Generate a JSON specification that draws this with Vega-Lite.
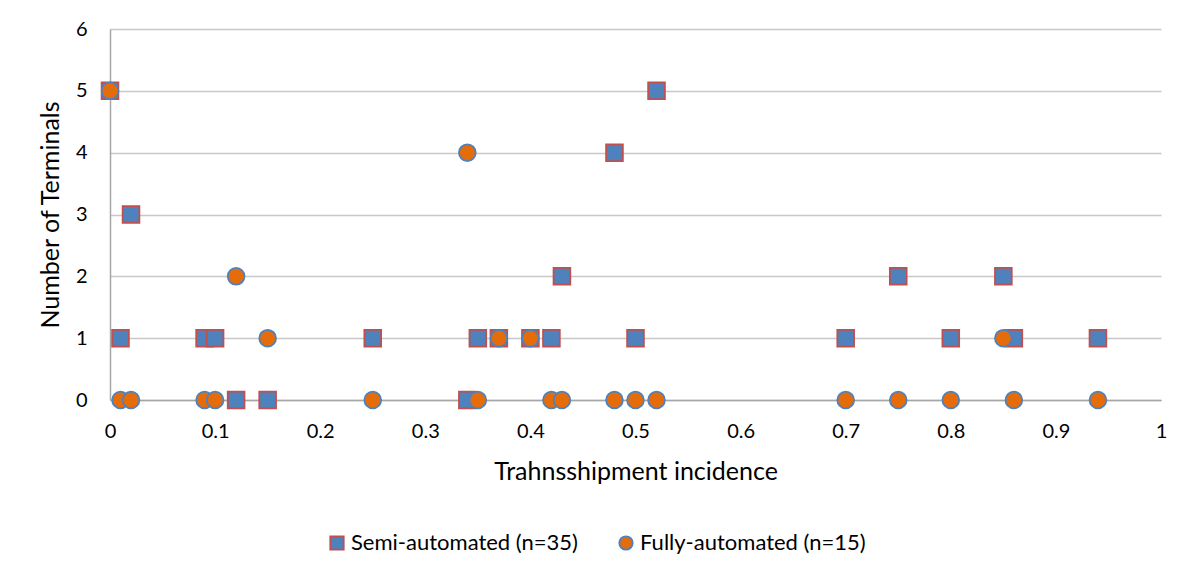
{
  "$schema": "https://vega.github.io/schema/vega-lite/v6.json",
  "width": 1051,
  "height": 371,
  "autosize": {"type": "none"},
  "padding": {"left": 110, "top": 29, "right": 37, "bottom": 179},
  "background": "white",
  "config": {
    "font": "Lato",
    "view": {"stroke": null},
    "axis": {"labelFont": "Lato", "titleFont": "Lato", "labelColor": "#000000", "titleColor": "#000000", "titleFontWeight": "normal", "labelFontSize": 20, "titleFontSize": 25},
    "legend": {"labelFont": "Lato", "labelFontSize": 22, "labelColor": "#000000", "labelLimit": 0, "symbolSize": 180, "symbolStrokeWidth": 1.8, "columnPadding": 37, "labelOffset": 3}
  },
  "data": {
    "values": [
      {"Series": "Semi-automated (n=35)", "x": 0.0, "y": 5},
      {"Series": "Semi-automated (n=35)", "x": 0.02, "y": 3},
      {"Series": "Semi-automated (n=35)", "x": 0.01, "y": 1},
      {"Series": "Semi-automated (n=35)", "x": 0.09, "y": 1},
      {"Series": "Semi-automated (n=35)", "x": 0.10, "y": 1},
      {"Series": "Semi-automated (n=35)", "x": 0.12, "y": 0},
      {"Series": "Semi-automated (n=35)", "x": 0.15, "y": 0},
      {"Series": "Semi-automated (n=35)", "x": 0.25, "y": 1},
      {"Series": "Semi-automated (n=35)", "x": 0.34, "y": 0},
      {"Series": "Semi-automated (n=35)", "x": 0.35, "y": 1},
      {"Series": "Semi-automated (n=35)", "x": 0.37, "y": 1},
      {"Series": "Semi-automated (n=35)", "x": 0.40, "y": 1},
      {"Series": "Semi-automated (n=35)", "x": 0.42, "y": 1},
      {"Series": "Semi-automated (n=35)", "x": 0.43, "y": 2},
      {"Series": "Semi-automated (n=35)", "x": 0.48, "y": 4},
      {"Series": "Semi-automated (n=35)", "x": 0.50, "y": 1},
      {"Series": "Semi-automated (n=35)", "x": 0.52, "y": 5},
      {"Series": "Semi-automated (n=35)", "x": 0.70, "y": 1},
      {"Series": "Semi-automated (n=35)", "x": 0.75, "y": 2},
      {"Series": "Semi-automated (n=35)", "x": 0.80, "y": 1},
      {"Series": "Semi-automated (n=35)", "x": 0.85, "y": 2},
      {"Series": "Semi-automated (n=35)", "x": 0.86, "y": 1},
      {"Series": "Semi-automated (n=35)", "x": 0.94, "y": 1},
      {"Series": "Fully-automated (n=15)", "x": 0.0, "y": 5},
      {"Series": "Fully-automated (n=15)", "x": 0.01, "y": 0},
      {"Series": "Fully-automated (n=15)", "x": 0.02, "y": 0},
      {"Series": "Fully-automated (n=15)", "x": 0.09, "y": 0},
      {"Series": "Fully-automated (n=15)", "x": 0.10, "y": 0},
      {"Series": "Fully-automated (n=15)", "x": 0.12, "y": 2},
      {"Series": "Fully-automated (n=15)", "x": 0.15, "y": 1},
      {"Series": "Fully-automated (n=15)", "x": 0.25, "y": 0},
      {"Series": "Fully-automated (n=15)", "x": 0.34, "y": 4},
      {"Series": "Fully-automated (n=15)", "x": 0.35, "y": 0},
      {"Series": "Fully-automated (n=15)", "x": 0.37, "y": 1},
      {"Series": "Fully-automated (n=15)", "x": 0.40, "y": 1},
      {"Series": "Fully-automated (n=15)", "x": 0.42, "y": 0},
      {"Series": "Fully-automated (n=15)", "x": 0.43, "y": 0},
      {"Series": "Fully-automated (n=15)", "x": 0.48, "y": 0},
      {"Series": "Fully-automated (n=15)", "x": 0.50, "y": 0},
      {"Series": "Fully-automated (n=15)", "x": 0.52, "y": 0},
      {"Series": "Fully-automated (n=15)", "x": 0.70, "y": 0},
      {"Series": "Fully-automated (n=15)", "x": 0.75, "y": 0},
      {"Series": "Fully-automated (n=15)", "x": 0.80, "y": 0},
      {"Series": "Fully-automated (n=15)", "x": 0.85, "y": 1},
      {"Series": "Fully-automated (n=15)", "x": 0.86, "y": 0},
      {"Series": "Fully-automated (n=15)", "x": 0.94, "y": 0}
    ]
  },
  "mark": {"type": "point", "filled": true, "opacity": 1, "strokeWidth": 1.8, "clip": false, "size": 280},
  "encoding": {
    "x": {
      "field": "x", "type": "quantitative",
      "scale": {"domain": [0, 1], "nice": false, "zero": true},
      "axis": {"title": "Trahnsshipment incidence", "format": "~g", "values": [0, 0.1, 0.2, 0.3, 0.4, 0.5, 0.6, 0.7, 0.8, 0.9, 1], "grid": false, "ticks": false, "domainColor": "#a6a6a6", "domainWidth": 1.5, "labelPadding": 21, "titlePadding": 18, "labelFlush": false}
    },
    "y": {
      "field": "y", "type": "quantitative",
      "scale": {"domain": [0, 6], "nice": false},
      "axis": {"title": "Number of Terminals", "values": [0, 1, 2, 3, 4, 5, 6], "grid": true, "gridColor": "#c8c8c8", "gridWidth": 1.5, "ticks": false, "domainColor": "#a6a6a6", "domainWidth": 1.5, "labelPadding": 23, "titlePadding": 12, "labelFlush": false}
    },
    "shape": {
      "field": "Series", "type": "nominal",
      "scale": {"domain": ["Semi-automated (n=35)", "Fully-automated (n=15)"], "range": ["square", "circle"]},
      "legend": {"title": null, "orient": "none", "direction": "horizontal", "legendX": 216, "legendY": 503}
    },
    "fill": {
      "field": "Series", "type": "nominal",
      "scale": {"domain": ["Semi-automated (n=35)", "Fully-automated (n=15)"], "range": ["#4f81bd", "#e46c0a"]},
      "legend": {"title": null, "orient": "none", "direction": "horizontal", "legendX": 216, "legendY": 503}
    },
    "stroke": {
      "field": "Series", "type": "nominal",
      "scale": {"domain": ["Semi-automated (n=35)", "Fully-automated (n=15)"], "range": ["#c0504d", "#4f81bd"]},
      "legend": {"title": null, "orient": "none", "direction": "horizontal", "legendX": 216, "legendY": 503}
    },
    "order": {"field": "Series", "sort": "descending"}
  }
}
